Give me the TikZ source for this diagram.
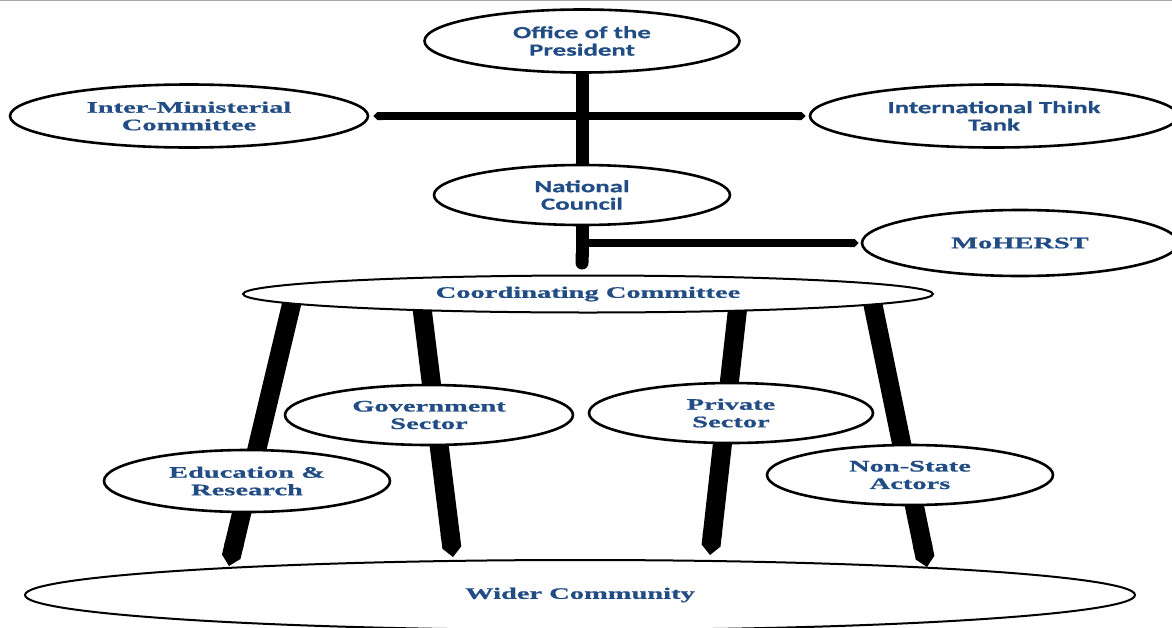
\documentclass[tikz,border=0pt]{standalone}
\usepackage{fontspec}
\usepackage{tikz}
\usetikzlibrary{shapes.geometric,arrows.meta}
\newfontfamily\slabfont[FakeStretch=1.78,FakeBold=0.8]{Liberation Serif}
\newfontfamily\calfont[FakeStretch=1.58,FakeBold=0.6]{Carlito}
\definecolor{textblue}{RGB}{33,76,132}

\begin{document}
\begin{tikzpicture}[x=1pt,y=-1pt,
    oval/.style={ellipse, draw, line width=2.6pt, fill=white, inner sep=0pt,
      align=center, text=textblue},
    slab/.style={font=\slabfont\bfseries\fontsize{16}{17.5}\selectfont},
    calib/.style={font=\calfont\bfseries\fontsize{17}{17.5}\selectfont},
    vbar/.style={line width=13pt},
    hbar/.style={line width=8pt},
    leg/.style={line width=19pt, -{Triangle Cap}}]
  \useasboundingbox (0,0) rectangle (1172,627);
  \draw[gray!70, line width=1pt] (0,0.5) -- (1172,0.5);

  % legs from the committee down to the community
  \foreach \i/\tx/\ty/\fx/\fy in {1/293/298/229/566, 2/421/300/453/557,
      3/738/305/710/555, 4/872/300/927/567}{
    \coordinate (top\i) at (\tx,\ty);
    \coordinate (foot\i) at (\fx,\fy);
    \draw[leg] (top\i) -- (foot\i);
  }

  \node[oval, calib, minimum width=315pt, minimum height=63pt] (pres) at (582,41)
    {Office of the\\President};
  \node[oval, slab, minimum width=358pt, minimum height=63pt] (imc) at (189,116)
    {Inter-Ministerial\\Committee};
  \node[oval, calib, minimum width=368pt, minimum height=63pt] (itt) at (994,116)
    {International Think\\Tank};
  \node[oval, calib, minimum width=296pt, minimum height=60pt] (nc) at (582,195)
    {National\\Council};
  \node[oval, slab, minimum width=316pt, minimum height=66pt] (mo) at (1020,243)
    {MoHERST};
  \node[oval, slab, line width=2pt, minimum width=690pt, minimum height=37pt] (cc)
    at (588,294) {Coordinating Committee};
  \node[oval, slab, minimum width=288pt, minimum height=60pt] (gov) at (429,415)
    {Government\\Sector};
  \node[oval, slab, minimum width=284pt, minimum height=60pt] (priv) at (731,413)
    {Private\\Sector};
  \node[oval, slab, minimum width=286pt, minimum height=62pt] (edu) at (247,481)
    {Education \&\\Research};
  \node[oval, slab, minimum width=286pt, minimum height=60pt] (nsa) at (910,475)
    {Non-State\\Actors};
  \node[oval, slab, line width=2pt, minimum width=1110pt, minimum height=70pt] (wider)
    at (580,595) {Wider Community};

  \draw[hbar, {Triangle Cap}-{Triangle Cap}, shorten <=4pt, shorten >=3pt]
    (imc.east) -- (itt.west);
  \draw[vbar] (pres.south) -- (nc.north);
  \draw[hbar, -{Triangle Cap}, shorten >=2pt] (nc.south |- mo.west) -- (mo.west);
  \draw[vbar, -{Round Cap}, shorten >=5pt] (nc.south) -- (nc.south |- cc.north);
\end{tikzpicture}
\end{document}
